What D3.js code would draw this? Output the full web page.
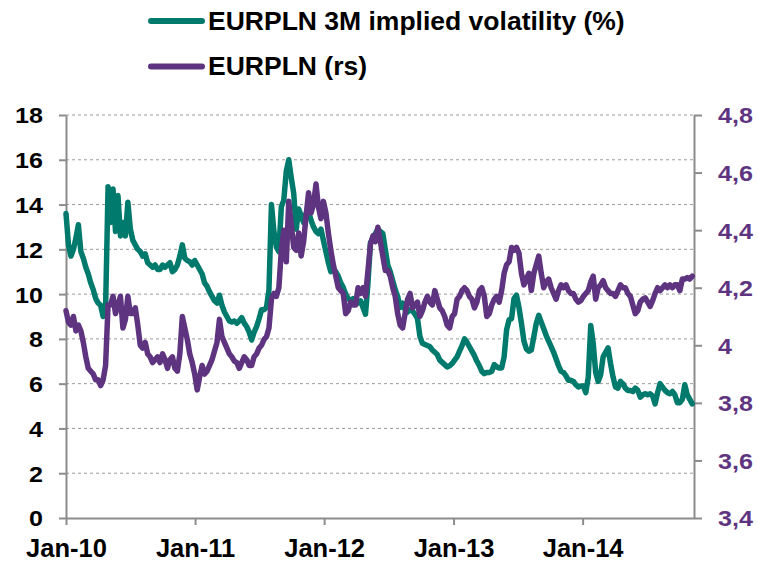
<!DOCTYPE html>
<html>
<head>
<meta charset="utf-8">
<script src="https://cdn.jsdelivr.net/npm/d3@7/dist/d3.min.js"></script>
<style>
    body { margin: 0; background: #fff; }
    svg { display: block; }
    text { font-family: "Liberation Sans", Arial, sans-serif; font-weight: bold; }
</style>
</head>
<body>
<div id="chart"></div>
<script>
// weekly observations, starting Fri 1 Jan 2010
var startDate = "2010-01-01";

// EURPLN 3M implied volatility (%), left axis
var volatility = [
    13.6, 12.2, 11.7, 12.0, 12.5, 13.1, 11.9, 11.6, 11.2, 10.9,
    10.5, 10.2, 9.8, 9.6, 9.5, 9.0, 9.4, 14.8, 13.2, 14.7,
    12.8, 14.4, 12.6, 13.2, 12.6, 14.1, 12.9, 12.4, 12.2, 12.0,
    11.9, 11.7, 11.8, 11.4, 11.3, 11.2, 11.3, 11.1, 11.1, 11.3,
    11.2, 11.3, 11.4, 11.0, 11.1, 11.3, 11.7, 12.2, 11.6, 11.5,
    11.45, 11.3, 11.5, 11.3, 11.1, 10.9, 10.5, 10.35, 10.1, 9.9,
    9.7, 9.6, 9.95, 9.5, 9.2, 9.0, 8.8, 8.75, 8.8, 8.7,
    8.8, 8.95, 8.7, 8.55, 8.3, 7.95, 8.3, 8.55, 8.9, 9.3,
    9.3, 9.4, 10.2, 14.0, 12.8, 12.1, 11.9, 13.9, 14.2, 15.5,
    16.0, 15.2, 14.5, 12.9, 13.8, 13.5, 13.2, 13.6, 13.7, 13.3,
    13.0, 12.8, 12.7, 12.9, 12.4, 11.9, 11.4, 11.0, 11.1, 11.0,
    10.8, 10.5, 10.3, 10.0, 9.8, 9.7, 9.8, 9.7, 9.6, 9.7,
    9.4, 9.1, 10.5, 12.3, 12.5, 12.7, 12.9, 12.8, 12.7, 12.0,
    11.3, 11.0, 10.6, 10.2, 9.9, 9.4, 9.6, 9.3, 9.2, 9.3,
    9.25, 9.1, 8.9, 8.1, 7.8, 7.75, 7.7, 7.65, 7.5, 7.4,
    7.3, 7.05, 6.95, 6.85, 6.75, 6.8, 6.9, 7.05, 7.2, 7.45,
    7.7, 8.0, 7.85, 7.65, 7.45, 7.25, 7.0, 6.8, 6.55, 6.45,
    6.5, 6.5, 6.55, 6.85, 6.75, 6.7, 6.7, 7.2, 8.4, 8.85,
    8.9, 9.8, 9.95, 9.4, 8.7, 7.9, 7.55, 7.45, 7.5, 8.1,
    8.7, 9.05, 8.75, 8.45, 8.15, 7.9, 7.65, 7.4, 7.1, 6.8,
    6.55, 6.5, 6.35, 6.15, 6.15, 6.1, 5.95, 5.85, 5.9, 5.9,
    5.6, 6.3, 8.6, 7.8, 6.5, 6.1, 6.4, 7.2, 7.4, 7.6,
    6.9, 6.3, 5.85, 5.8, 6.1, 6.0, 5.8, 5.7, 5.7, 5.65,
    5.8, 5.7, 5.4, 5.5, 5.55, 5.5, 5.55, 5.45, 5.1, 5.6,
    6.0, 5.85, 5.7, 5.6, 5.55, 5.65, 5.5, 5.15, 5.15, 5.3,
    5.95, 5.5, 5.3, 5.1
];

// EURPLN spot, right axis
var eurpln = [
    4.12, 4.08, 4.07, 4.10, 4.05, 4.07, 4.05, 4.01, 3.96, 3.92,
    3.91, 3.90, 3.88, 3.88, 3.86, 3.88, 3.93, 4.14, 4.14, 4.17,
    4.11, 4.14, 4.17, 4.06, 4.09, 4.17, 4.11, 4.11, 4.13, 4.07,
    4.00, 3.99, 4.01, 3.97, 3.96, 3.94, 3.95, 3.96, 3.94, 3.97,
    3.95, 3.92, 3.95, 3.96, 3.92, 3.91, 3.97, 4.10, 4.06, 4.02,
    3.97, 3.94, 3.90, 3.845, 3.89, 3.93, 3.90, 3.91, 3.93, 3.95,
    3.98, 4.01, 4.09, 4.03, 4.01, 3.99, 3.97, 3.96, 3.945, 3.94,
    3.92, 3.94, 3.96, 3.95, 3.93, 3.93, 3.96, 3.97, 3.99, 4.00,
    4.02, 4.03, 4.06, 4.16, 4.18, 4.17, 4.20, 4.33, 4.40, 4.29,
    4.50, 4.42, 4.34, 4.33, 4.39, 4.31, 4.36, 4.45, 4.53, 4.46,
    4.49, 4.56, 4.48, 4.44, 4.50, 4.46, 4.39, 4.33, 4.28, 4.24,
    4.20, 4.19, 4.18, 4.11, 4.12, 4.15, 4.14, 4.14, 4.20, 4.18,
    4.20, 4.17, 4.26, 4.35, 4.38, 4.36, 4.41, 4.36, 4.31, 4.26,
    4.26, 4.24, 4.20, 4.17, 4.11, 4.07, 4.06, 4.11, 4.16, 4.18,
    4.13, 4.14, 4.15, 4.10, 4.12, 4.15, 4.17, 4.15, 4.14, 4.19,
    4.16, 4.13, 4.12, 4.10, 4.07, 4.06, 4.10, 4.11, 4.16, 4.17,
    4.19, 4.20, 4.19, 4.17, 4.16, 4.13, 4.15, 4.19, 4.20, 4.17,
    4.10, 4.11, 4.14, 4.16, 4.17, 4.15, 4.19, 4.25, 4.28, 4.29,
    4.34, 4.33, 4.34, 4.32, 4.25, 4.21, 4.23, 4.25, 4.19, 4.25,
    4.28, 4.31, 4.25, 4.20, 4.22, 4.23, 4.20, 4.18, 4.16, 4.19,
    4.21, 4.20, 4.21, 4.19, 4.18, 4.18, 4.16, 4.15, 4.155, 4.17,
    4.18, 4.19, 4.22, 4.24, 4.16, 4.20, 4.21, 4.225, 4.20, 4.19,
    4.18, 4.18, 4.17, 4.19, 4.21, 4.20, 4.20, 4.18, 4.17, 4.14,
    4.11, 4.12, 4.15, 4.16, 4.165, 4.15, 4.135, 4.155, 4.18, 4.20,
    4.19, 4.20, 4.21, 4.20, 4.21, 4.20, 4.21, 4.21, 4.19, 4.23,
    4.23, 4.235, 4.23, 4.24
];

var seriesNames = ["EURPLN 3M implied volatility (%)", "EURPLN (rs)"];
var leftTicks = [0, 2, 4, 6, 8, 10, 12, 14, 16, 18];
var rightTicks = [3.4, 3.6, 3.8, 4.0, 4.2, 4.4, 4.6, 4.8];
var yearTicks = ["2010-01-01", "2011-01-01", "2012-01-01", "2013-01-01", "2014-01-01"];
var dateEnd = "2014-11-12";

(function () {

    var teal = "#007a6c",
        purple = "#5e3480",
        axisGrey = "#8c8c8c";

    var margin = { top: 115, right: 64, bottom: 44, left: 66 },
        width = 758 - margin.left - margin.right,
        height = 562 - margin.top - margin.bottom;

    var parse = d3.timeParse("%Y-%m-%d");
    var start = parse(startDate);
    var dates = volatility.map(function (d, i) { return d3.timeDay.offset(start, 7 * i); });

    var x = d3.scaleTime()
        .domain([start, parse(dateEnd)])
        .range([0, width]);

    var yL = d3.scaleLinear().domain([0, 18]).range([height, 0]);
    var yR = d3.scaleLinear().domain([3.4, 4.8]).range([height, 0]);

    var svg = d3.select("#chart").append("svg")
        .attr("width", 758)
        .attr("height", 562);

    var g = svg.append("g")
        .attr("transform", "translate(" + margin.left + "," + margin.top + ")");

    // dashed gridlines from the left scale
    g.selectAll(".grid")
        .data(leftTicks.filter(function (d) { return d > 0; }))
        .enter().append("line")
        .attr("class", "grid")
        .attr("x1", 0)
        .attr("x2", width)
        .attr("y1", function (d) { return yL(d); })
        .attr("y2", function (d) { return yL(d); })
        .attr("stroke", "#9a9a9a")
        .attr("stroke-width", 1)
        .attr("stroke-dasharray", "3,3");

    // widen the axis digits a little, like the original
    function stretch(sel, k) {
        sel.each(function () {
            var w = this.getComputedTextLength();
            d3.select(this).attr("textLength", w * k).attr("lengthAdjust", "spacingAndGlyphs");
        });
    }

    function styleAxis(ax) {
        ax.selectAll("path").attr("stroke", axisGrey).attr("stroke-width", 2);
        ax.selectAll("line").attr("stroke", axisGrey).attr("stroke-width", 2);
    }

    var leftAxis = g.append("g")
        .call(d3.axisLeft(yL).tickValues(leftTicks).tickSize(7).tickSizeOuter(0).tickPadding(16)
            .tickFormat(d3.format("d")));
    styleAxis(leftAxis);
    leftAxis.selectAll("text")
        .style("font-size", "22px")
        .attr("fill", "#000")
        .attr("dy", "0.36em");
    stretch(leftAxis.selectAll("text"), 1.14);

    var rightAxis = g.append("g")
        .attr("transform", "translate(" + width + ",0)")
        .call(d3.axisRight(yR).tickValues(rightTicks).tickSize(8).tickSizeOuter(0).tickPadding(16)
            .tickFormat(function (d) { return String(+d.toFixed(1)).replace(".", ","); }));
    styleAxis(rightAxis);
    rightAxis.selectAll("text")
        .style("font-size", "22px")
        .attr("fill", purple)
        .attr("dy", "0.36em");
    stretch(rightAxis.selectAll("text"), 1.14);

    var xAxis = g.append("g")
        .attr("transform", "translate(0," + height + ")")
        .call(d3.axisBottom(x).tickValues(yearTicks.map(parse)).tickSize(7).tickSizeOuter(0).tickPadding(14)
            .tickFormat(d3.timeFormat("%b-%y")));
    styleAxis(xAxis);
    xAxis.selectAll("text")
        .style("font-size", "25.5px")
        .attr("fill", "#000");

    // the two series, purple drawn on top
    var lineL = d3.line()
        .x(function (d, i) { return x(dates[i]); })
        .y(function (d) { return yL(d); });

    var lineR = d3.line()
        .x(function (d, i) { return x(dates[i]); })
        .y(function (d) { return yR(d); });

    g.append("path")
        .datum(volatility)
        .attr("fill", "none")
        .attr("stroke", teal)
        .attr("stroke-width", 5.5)
        .attr("stroke-linejoin", "round")
        .attr("stroke-linecap", "round")
        .attr("d", lineL);

    g.append("path")
        .datum(eurpln)
        .attr("fill", "none")
        .attr("stroke", purple)
        .attr("stroke-width", 5.5)
        .attr("stroke-linejoin", "round")
        .attr("stroke-linecap", "round")
        .attr("d", lineR);

    // legend
    var legend = svg.append("g").attr("class", "legend");
    var legendRows = [
        { name: seriesNames[0], color: teal, y: 21 },
        { name: seriesNames[1], color: purple, y: 66.5 }
    ];

    legendRows.forEach(function (r) {
        legend.append("line")
            .attr("x1", 151).attr("x2", 202)
            .attr("y1", r.y).attr("y2", r.y)
            .attr("stroke", r.color)
            .attr("stroke-width", 6)
            .attr("stroke-linecap", "round");
        legend.append("text")
            .attr("x", 208)
            .attr("y", r.y + 8.5)
            .style("font-size", "26.5px")
            .attr("fill", "#000")
            .text(r.name);
    });

})();
</script>
</body>
</html>
